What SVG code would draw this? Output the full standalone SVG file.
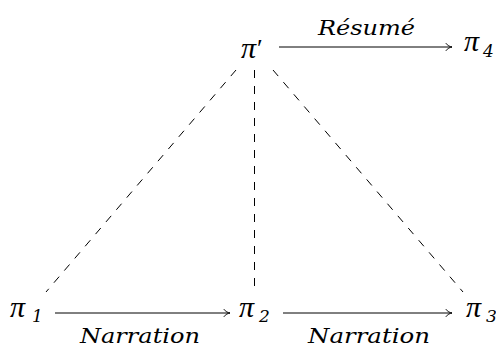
<svg xmlns="http://www.w3.org/2000/svg" width="496" height="349" viewBox="0 0 496 349">
<style>
.pi{font-family:"Liberation Serif",serif;font-style:italic;font-size:30px;fill:#000}
.sub{font-family:"DejaVu Serif",serif;font-style:italic;font-size:17px;fill:#000}
.lbl{font-family:"DejaVu Serif",serif;font-style:italic;font-size:20px;fill:#000}
.arr{stroke:#000;stroke-width:1;fill:none;marker-end:url(#to)}
.dash{stroke:#000;stroke-width:1;fill:none;stroke-dasharray:8 8}
</style>
<defs>
<marker id="to" markerUnits="userSpaceOnUse" viewBox="-8 -5 10 10" refX="0" refY="0" markerWidth="10" markerHeight="10" orient="auto">
<path d="M-6,-3.6 C-4.6,-1.3 -1.6,-0.3 0,0 C-1.6,0.3 -4.6,1.3 -6,3.6" stroke="#000" stroke-width="0.9" fill="none" stroke-linecap="round"/>
</marker>
</defs>
<rect width="496" height="349" fill="#fff"/>
<g id="connectors">
<line class="dash" x1="236" y1="70" x2="46" y2="292"/>
<line class="dash" x1="254.5" y1="70" x2="254.5" y2="287"/>
<line class="dash" x1="273" y1="70" x2="463" y2="292"/>
<line class="arr" x1="279" y1="47" x2="452" y2="47"/>
<line class="arr" x1="55" y1="313" x2="230" y2="313"/>
<line class="arr" x1="283" y1="313" x2="452" y2="313"/>
<text class="lbl" x="318" y="35" textLength="97" lengthAdjust="spacingAndGlyphs">Résumé</text>
<text class="lbl" x="80" y="343" textLength="120" lengthAdjust="spacingAndGlyphs">Narration</text>
<text class="lbl" x="308" y="343" textLength="122" lengthAdjust="spacingAndGlyphs">Narration</text>
</g>
<g id="pi-prime"><text class="pi" x="241" y="58">π<tspan font-style="normal" font-size="26" dx="1" dy="-1">′</tspan></text></g>
<g id="pi4"><text class="pi" x="464" y="51">π</text><text class="sub" x="483" y="57">4</text></g>
<g id="pi1"><text class="pi" x="10" y="317">π</text><text class="sub" x="32" y="322">1</text></g>
<g id="pi2"><text class="pi" x="239" y="317">π</text><text class="sub" x="259" y="322">2</text></g>
<g id="pi3"><text class="pi" x="466" y="317">π</text><text class="sub" x="486" y="322">3</text></g>
</svg>
